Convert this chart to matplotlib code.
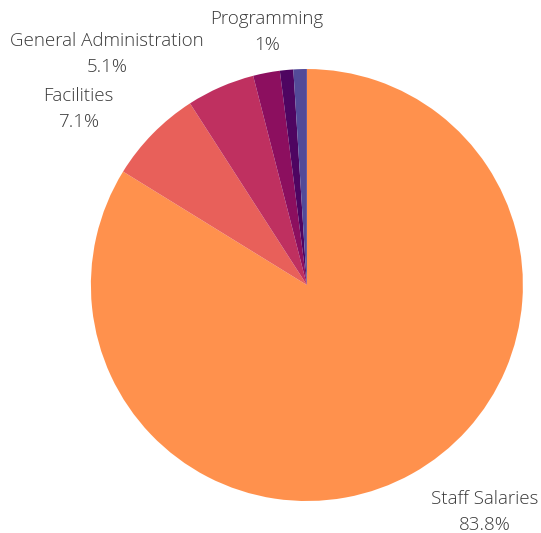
import matplotlib
matplotlib.use("Agg")
import matplotlib.pyplot as plt

categories = ["Staff Salaries", "Facilities", "General Administration", "Other A", "Other B", "Programming"]
values = [83.8, 7.1, 5.1, 2.0, 1.0, 1.0]
colors = ["#FF914D", "#E8605A", "#BF3060", "#8C0F5F", "#4E0561", "#534A98"]
show_label = [True, True, True, False, False, True]
label_pos = {
    "Staff Salaries": (0.824, -1.050),
    "Facilities": (-1.056, 0.814),
    "General Administration": (-0.926, 1.069),
    "Programming": (-0.185, 1.171),
}

plt.rcParams['font.family'] = ['Open Sans', 'DejaVu Sans']

fig = plt.figure(figsize=(5.41, 5.33), dpi=100)
ax = fig.add_axes([0.168, 0.060, 0.7985, 0.8105])
wedges, _ = ax.pie(values, colors=colors, startangle=90, counterclock=False,
                   wedgeprops=dict(linewidth=0))
ax.set_xlim(-1, 1)
ax.set_ylim(-1, 1)
ax.set_aspect('auto')

for cat, val, show in zip(categories, values, show_label):
    if not show:
        continue
    x, y = label_pos[cat]
    ax.text(x, y, f"{cat}\n{val:g}%", ha='center', va='center', fontsize=13.5,
            fontweight='light', color='#3a3a3a', linespacing=1.55, clip_on=False)

fig.savefig("out.png", dpi=100)
